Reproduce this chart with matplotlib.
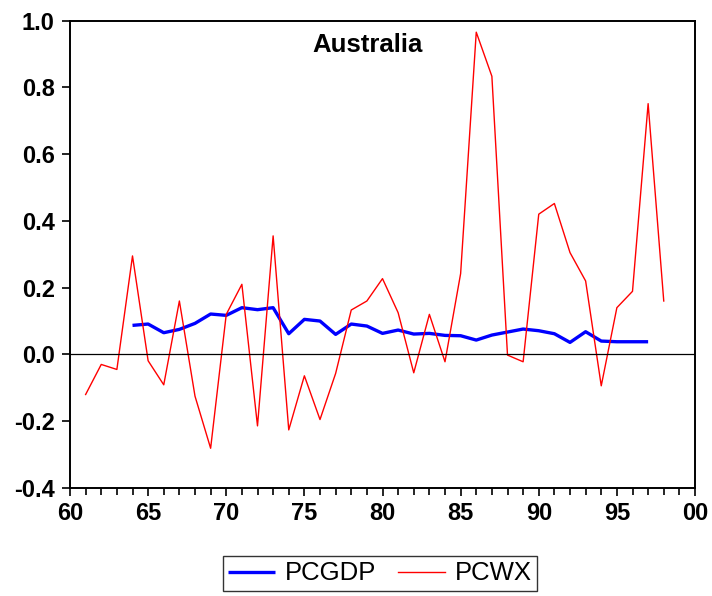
import matplotlib
matplotlib.use("Agg")
import matplotlib.pyplot as plt
from matplotlib.ticker import MultipleLocator, FuncFormatter

plt.rcParams['font.family'] = ['Liberation Sans', 'DejaVu Sans']

years_gdp = list(range(1964, 1998))
pcgdp = [0.087, 0.091, 0.065, 0.075, 0.093, 0.121, 0.117, 0.140, 0.134, 0.140,
         0.062, 0.105, 0.100, 0.060, 0.091, 0.085, 0.063, 0.073, 0.061, 0.063,
         0.057, 0.056, 0.043, 0.058, 0.067, 0.076, 0.071, 0.062, 0.036, 0.068,
         0.040, 0.038, 0.038, 0.038]

years_wx = list(range(1961, 1999))
pcwx = [-0.120, -0.030, -0.045, 0.295, -0.019, -0.091, 0.160, -0.125, -0.281, 0.120,
        0.210, -0.214, 0.355, -0.226, -0.064, -0.195, -0.057, 0.133, 0.160, 0.227,
        0.125, -0.055, 0.120, -0.022, 0.242, 0.965, 0.833, -0.002, -0.022, 0.420,
        0.452, 0.305, 0.220, -0.094, 0.140, 0.189, 0.751, 0.160]

title = "Australia"
series_names = ["PCGDP", "PCWX"]

fig = plt.figure(figsize=(7.12, 5.96), dpi=100)
ax = fig.add_axes([70/712, 1-488/596, (695-70)/712, (488-20.5)/596])

ax.plot(years_gdp, pcgdp, color='#0000ff', lw=2.4, label=series_names[0], solid_capstyle='butt')
ax.plot(years_wx, pcwx, color='#ff0000', lw=1.0, label=series_names[1])
ax.axhline(0, color='black', lw=0.9)

ax.set_xlim(1960, 2000)
ax.set_ylim(-0.4, 1.0)
ax.xaxis.set_major_locator(MultipleLocator(5))
ax.xaxis.set_minor_locator(MultipleLocator(1))
ax.yaxis.set_major_locator(MultipleLocator(0.2))
ax.xaxis.set_major_formatter(FuncFormatter(lambda v, p: "%02d" % (int(round(v)) % 100)))
ax.yaxis.set_major_formatter(FuncFormatter(lambda v, p: "%.1f" % v))

for s in ax.spines.values():
    s.set_linewidth(1.4)
    s.set_color('black')

ax.tick_params(axis='both', which='major', direction='out', length=6, width=1.2,
               labelsize=17, pad=5)
ax.tick_params(axis='x', which='major', pad=4)
ax.tick_params(axis='x', which='minor', direction='out', length=5, width=1.2)
for lab in ax.get_xticklabels() + ax.get_yticklabels():
    lab.set_fontweight('bold')

ax.text((368-70)/625, 1-(33-20.5)/467.5, title, transform=ax.transAxes, ha='center', va='top',
        fontsize=18.5, fontweight='bold')

leg = fig.legend(loc='center', bbox_to_anchor=(380/712, 1-573.5/596), ncol=2,
                 frameon=True, fancybox=False, fontsize=18.5, handlelength=1.82,
                 columnspacing=0.85, handletextpad=0.4, borderpad=0.2, borderaxespad=0)
leg.get_frame().set_edgecolor('black')
leg.get_frame().set_linewidth(1.0)

fig.savefig("out.png", dpi=100)
